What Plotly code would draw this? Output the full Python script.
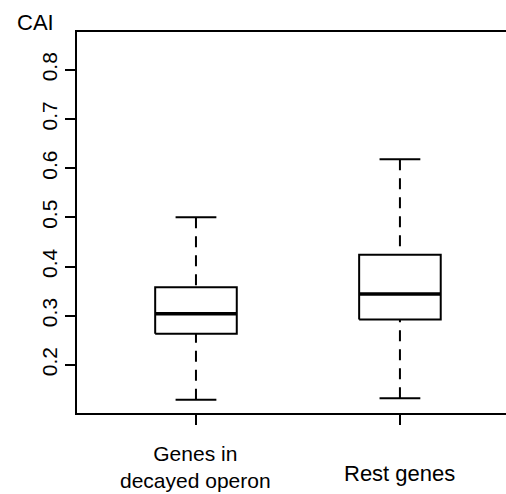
import plotly.graph_objects as go

categories = ["Genes in<br>decayed operon", "Rest genes"]
positions = [1, 2]
lower_whisker = [0.129, 0.132]
q1 = [0.263, 0.292]
median = [0.304, 0.344]
q3 = [0.358, 0.424]
upper_whisker = [0.500, 0.618]
y_ticks = [0.2, 0.3, 0.4, 0.5, 0.6, 0.7, 0.8]

BOX_HALF = 0.2
CAP_HALF = 0.1
FONT = "Liberation Sans, Arial, sans-serif"

fig = go.Figure()

for i, p in enumerate(positions):
    # dashed whiskers
    for a, b in ((q3[i], upper_whisker[i]), (q1[i], lower_whisker[i])):
        fig.add_trace(go.Scatter(x=[p, p], y=[b, a], mode="lines",
                                 line=dict(color="black", width=2, dash="11px,8px"),
                                 showlegend=False, hoverinfo="skip"))
    # caps
    for w in (upper_whisker[i], lower_whisker[i]):
        fig.add_trace(go.Scatter(x=[p - CAP_HALF, p + CAP_HALF], y=[w, w], mode="lines",
                                 line=dict(color="black", width=2),
                                 showlegend=False, hoverinfo="skip"))
    # box
    fig.add_trace(go.Scatter(
        x=[p - BOX_HALF, p + BOX_HALF, p + BOX_HALF, p - BOX_HALF, p - BOX_HALF],
        y=[q1[i], q1[i], q3[i], q3[i], q1[i]], mode="lines",
        fill="toself", fillcolor="white",
        line=dict(color="black", width=2),
        showlegend=False, hoverinfo="skip"))
    # median
    fig.add_trace(go.Scatter(x=[p - BOX_HALF, p + BOX_HALF], y=[median[i], median[i]],
                             mode="lines", line=dict(color="black", width=3.5),
                             showlegend=False, hoverinfo="skip"))

for p, lab in zip(positions, categories):
    multi = "<br>" in lab
    fig.add_annotation(x=p, xref="x", y=-0.16, yref="paper", text=lab,
                       showarrow=False, xanchor="center", yanchor="middle",
                       yshift=7 if multi else 0,
                       font=dict(family=FONT, size=21 if multi else 22, color="black"))

fig.add_annotation(x=-0.1445, xref="paper", y=1.024, yref="paper", text="CAI",
                   showarrow=False, xanchor="left", yanchor="middle",
                   font=dict(family=FONT, size=22, color="black"))

fig.update_xaxes(range=[0.4167, 2.52], tickvals=positions, ticktext=["", ""],
                 showline=True, mirror=True, linecolor="black", linewidth=2,
                 ticks="outside", ticklen=10, tickwidth=2, tickcolor="black",
                 showgrid=False, zeroline=False, fixedrange=True)
fig.update_yaxes(range=[0.102, 0.877], tickvals=y_ticks,
                 ticktext=[f"{v:.1f}" for v in y_ticks], tickangle=-90,
                 showline=True, mirror=False, linecolor="black", linewidth=2,
                 ticks="outside", ticklen=10, tickwidth=2, tickcolor="black",
                 tickfont=dict(family=FONT, size=21, color="black"),
                 showgrid=False, zeroline=False, fixedrange=True)

fig.update_layout(width=506, height=494,
                  margin=dict(l=77, r=0, t=32, b=81, pad=0),
                  paper_bgcolor="white", plot_bgcolor="white",
                  font=dict(family=FONT, color="black"))

fig.write_html("out.html", config={"displayModeBar": False},
               post_script="document.body.style.margin='0';document.body.style.overflow='hidden';")
